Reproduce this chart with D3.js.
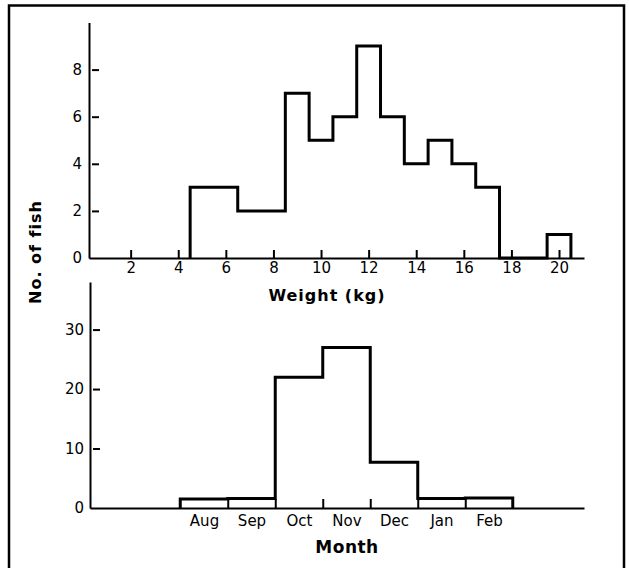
<!DOCTYPE html>
<html>
<head>
<meta charset="utf-8">
<script src="https://cdn.jsdelivr.net/npm/d3@7"></script>
<style>
  body { margin: 0; background: #fff; }
  svg text { font-family: "DejaVu Sans", sans-serif; fill: #000; }
</style>
</head>
<body>
<div id="chart"></div>
<script>
// weight histogram: 1 kg bins, centres in kg
const weightBins = [5, 6, 7, 8, 9, 10, 11, 12, 13, 14, 15, 16, 17, 18, 19, 20];
const weightCounts = [3, 3, 2, 2, 7, 5, 6, 9, 6, 4, 5, 4, 3, 0, 0, 1];
const weightTicks = [2, 4, 6, 8, 10, 12, 14, 16, 18, 20];
const weightYTicks = [0, 2, 4, 6, 8];

// catch by month
const months = ["Aug", "Sep", "Oct", "Nov", "Dec", "Jan", "Feb"];
const monthCounts = [1.5, 1.6, 22, 27, 7.7, 1.6, 1.7];
const monthYTicks = [0, 10, 20, 30];

const W = 629, H = 568;
const svg = d3.select("#chart").append("svg")
    .attr("width", W)
    .attr("height", H);

// frame (open at the bottom)
svg.append("path")
    .attr("d", "M9,568 V5.5 H624 V568")
    .attr("fill", "none")
    .attr("stroke", "#000")
    .attr("stroke-width", 2.5);

// ---------- weight panel ----------
const x1 = d3.scaleLinear().domain([0.25, 21.05]).range([89, 584]);
const y1 = d3.scaleLinear().domain([0, 10]).range([258, 22.5]);

const gWeight = svg.append("g");

// step outline of the histogram, drawn under the axes
const wPts = [[weightBins[0] - 0.5, 0]];
weightBins.forEach((b, i) => {
    wPts.push([b - 0.5, weightCounts[i]]);
});
wPts.push([weightBins[weightBins.length - 1] + 0.5, 0]);

gWeight.append("path")
    .datum(wPts)
    .attr("fill", "none")
    .attr("stroke", "#000")
    .attr("stroke-width", 3)
    .attr("d", d3.line().x(d => x1(d[0])).y(d => y1(d[1])).curve(d3.curveStepAfter));

gWeight.append("g")
    .attr("transform", `translate(0,${y1(0)})`)
    .call(d3.axisBottom(x1).tickValues(weightTicks).tickSize(-8).tickSizeOuter(0).tickPadding(4));

const yAxis1 = gWeight.append("g")
    .attr("transform", `translate(${x1.range()[0]},0)`)
    .call(d3.axisLeft(y1).tickValues(weightYTicks).tickSize(-10).tickSizeOuter(0).tickPadding(7));

yAxis1.selectAll(".tick line").attr("x1", 3).filter(d => d === 0).remove();

gWeight.append("text")
    .attr("x", 327)
    .attr("y", 301)
    .attr("text-anchor", "middle")
    .attr("font-size", 16)
    .attr("font-weight", "bold")
    .attr("letter-spacing", 1)
    .text("Weight (kg)");

// ---------- month panel ----------
const x2 = d3.scaleLinear().domain([-1.9, 8.5]).range([90, 584]);
const y2 = d3.scaleLinear().domain([0, 38]).range([508, 282]);

const gMonth = svg.append("g");

const mPts = [[0, 0]];
months.forEach((m, i) => mPts.push([i, monthCounts[i]]));
mPts.push([months.length, 0]);

gMonth.append("path")
    .datum(mPts)
    .attr("fill", "none")
    .attr("stroke", "#000")
    .attr("stroke-width", 3)
    .attr("d", d3.line().x(d => x2(d[0])).y(d => y2(d[1])).curve(d3.curveStepAfter));

// ticks at the month boundaries, labels at the month centres
const edges = d3.range(1, months.length);
gMonth.append("g")
    .attr("transform", `translate(0,${y2(0)})`)
    .call(d3.axisBottom(x2).tickValues(edges).tickSize(-9).tickSizeOuter(0).tickFormat(""));

gMonth.append("g")
    .attr("transform", `translate(0,${y2(0)})`)
    .call(d3.axisBottom(x2).tickValues(months.map((m, i) => i + 0.5)).tickSize(0).tickPadding(7)
        .tickFormat((d, i) => months[i]))
    .call(g => g.select(".domain").remove());

const yAxis2 = gMonth.append("g")
    .attr("transform", `translate(${x2.range()[0]},0)`)
    .call(d3.axisLeft(y2).tickValues(monthYTicks).tickSize(-10).tickSizeOuter(0).tickPadding(6));

yAxis2.selectAll(".tick line").attr("x1", 3).filter(d => d === 0).remove();

gMonth.append("text")
    .attr("x", 347)
    .attr("y", 553)
    .attr("text-anchor", "middle")
    .attr("font-size", 17)
    .attr("font-weight", "bold")
    .attr("letter-spacing", 0.5)
    .text("Month");

// shared y title
svg.append("text")
    .attr("transform", "translate(41,252) rotate(-90)")
    .attr("text-anchor", "middle")
    .attr("font-size", 16)
    .attr("font-weight", "bold")
    .attr("letter-spacing", 1)
    .text("No. of fish");

// axis styling
svg.selectAll(".domain").attr("stroke", "#000").attr("stroke-width", 2);
svg.selectAll(".tick line").attr("stroke", "#000").attr("stroke-width", 2);
svg.selectAll(".tick text").attr("font-size", 15).attr("fill", "#000")
    .style("font-family", '"DejaVu Sans", sans-serif');
</script>
</body>
</html>
